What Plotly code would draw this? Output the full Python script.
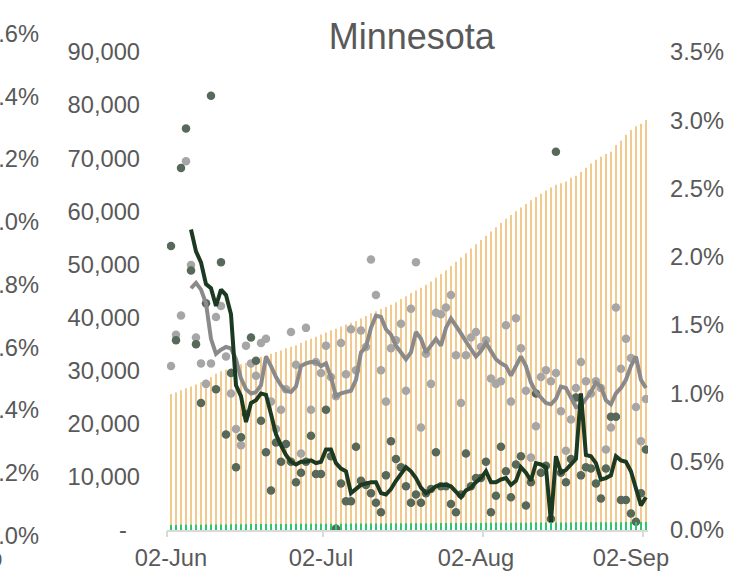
import plotly.graph_objects as go
import pandas as pd

# ---------------- data ----------------
dates = pd.date_range("2020-06-02", periods=96, freq="D")

cum_cases = [
    25600, 25900, 26300, 26700, 27000, 27400, 27800, 28300, 28800, 29400,
    29900, 30200, 30500, 30800, 31200, 31500, 31900, 32300, 32600, 32900,
    33200, 33500, 33800, 34200, 34500, 34800, 35200, 35700, 36000, 36400,
    36800, 37200, 37600, 37900, 38300, 38700, 39000, 39300, 39800, 40300,
    40800, 41200, 41600, 42000, 42400, 42900, 43500, 44000, 44600, 45100,
    45600, 46200, 46800, 47500, 48200, 48900, 49700, 50500, 51300, 52100,
    53000, 53800, 54600, 55400, 56200, 57000, 57800, 58600, 59300, 60000,
    60700, 61400, 62100, 62700, 63300, 63900, 64500, 65000, 65300,
    65600, 66300, 66700, 67400, 68200, 69000, 69700, 70300, 70800, 71200,
    72500, 73300, 74400, 75300, 76000, 76500, 77200,
]

cum_deaths = [
    950, 960, 975, 985, 990, 1000, 1012, 1020, 1030, 1040,
    1050, 1058, 1070, 1080, 1088, 1100, 1108, 1115, 1120, 1128,
    1130, 1136, 1140, 1146, 1150, 1155, 1162, 1165, 1170, 1176,
    1180, 1185, 1190, 1196, 1200, 1205, 1210, 1216, 1220, 1225,
    1230, 1236, 1240, 1245, 1250, 1256, 1260, 1265, 1270, 1276,
    1280, 1285, 1290, 1296, 1300, 1305, 1310, 1316, 1320, 1325,
    1330, 1336, 1340, 1345, 1350, 1356, 1360, 1365, 1370, 1376,
    1380, 1385, 1390, 1396, 1400, 1405, 1410, 1416, 1420, 1425,
    1430, 1436, 1440, 1445, 1450, 1456, 1460, 1465, 1470, 1476,
    1480, 1485, 1490, 1496, 1500, 1505,
]

case_growth = [
    1.20, 1.43, 1.57, 2.70, 1.94, 1.41, 1.22, 1.07, 1.22, 1.56,
    1.64, 1.27, 1.00, 0.74, 0.62, 1.35, 1.22, 1.13, 1.37, 1.40,
    0.94, 0.74, 0.88, 1.03, 1.45, 1.21, 0.56, 1.48, 0.88, 1.23,
    1.15, 1.35, 1.12, 0.98, 1.37, 1.14, 1.47, 1.17, 1.46, 1.34,
    1.98, 1.72, 1.17, 0.94, 1.33, 1.39, 1.51, 1.02, 1.62, 1.96,
    0.75, 1.29, 1.07, 1.59, 1.58, 1.63, 1.72, 1.28, 0.93, 1.28,
    1.41, 1.45, 1.34, 1.39, 1.11, 1.07, 1.09, 1.50, 0.94, 1.55,
    1.33, 1.02, 0.53, 0.76, 1.12, 1.17, 1.09, 1.15, 0.87, 0.58,
    0.81, 1.04, 1.23, 1.09, 1.00, 1.09, 1.04, 0.59, 0.75, 1.63,
    1.18, 1.40, 1.26, 0.90, 0.65, 0.96,
]

death_growth = [
    2.08, 1.39, 2.65, 2.94, 1.90, 1.36, 0.93, 1.66, 3.18, 1.03,
    1.96, 0.70, 1.15, 0.46, 0.68, 0.85, 1.41, 1.24, 0.80, 0.57,
    0.29, 0.64, 0.50, 0.63, 0.50, 0.35, 0.42, 0.50, 0.69, 0.41,
    0.41, 0.88, 0.54, 0.01, 0.34, 0.21, 0.21, 0.61, 0.36, 0.33,
    0.27, 0.20, 0.13, 0.40, 0.65, 0.52, 0.46, 0.32, 0.20, 0.26,
    0.20, 0.27, 0.30, 0.57, 0.32, 0.32, 0.19, 0.13, 0.26, 0.56,
    0.32, 0.38, 0.38, 0.50, 0.13, 0.25, 0.61, 0.43, 0.24, 0.48,
    0.54, 0.18, 0.35, 1.00, 0.42, 0.47, 0.08, 2.77, 0.42, 0.35,
    0.52, 0.97, 0.40, 0.46, 0.45, 0.34, 0.23, 0.45, 0.83, 0.83,
    0.22, 0.22, 0.12, 0.06, 0.27, 0.59,
]

case_growth_avg = [None, None, None, None,
    1.77, 1.81, 1.76, 1.66, 1.40, 1.29, 1.32, 1.34, 1.33, 1.25,
    1.11, 1.03, 1.00, 1.01, 1.06, 1.27, 1.20, 1.12, 1.06, 1.02,
    1.01, 1.05, 1.20, 1.22, 1.23, 1.23, 1.20, 1.22, 1.12, 0.98,
    1.00, 1.01, 1.02, 1.10, 1.30, 1.34, 1.48, 1.57, 1.56, 1.47,
    1.43, 1.35, 1.30, 1.25, 1.30, 1.45, 1.40, 1.30, 1.35, 1.40,
    1.35, 1.48, 1.55, 1.50, 1.44, 1.38, 1.33, 1.27, 1.31, 1.37,
    1.31, 1.25, 1.22, 1.20, 1.13, 1.20, 1.27, 1.20, 1.08, 1.01,
    0.97, 0.93, 0.92, 0.96, 1.05, 1.04, 0.97, 0.90, 0.91, 0.96,
    1.01, 1.08, 1.05, 0.95, 0.92, 1.00, 1.04, 1.10, 1.20, 1.27,
    1.10, 1.04,
]

death_growth_avg = [None, None, None, None,
    2.20, 2.04, 1.96, 1.80, 1.77, 1.64, 1.76, 1.72, 1.58, 1.06,
    0.98, 0.79, 0.93, 0.95, 1.00, 0.99, 0.85, 0.70, 0.62, 0.55,
    0.50, 0.48, 0.50, 0.50, 0.51, 0.49, 0.50, 0.59, 0.59, 0.49,
    0.45, 0.43, 0.27, 0.30, 0.33, 0.34, 0.35, 0.35, 0.27, 0.26,
    0.30, 0.36, 0.41, 0.46, 0.43, 0.38, 0.31, 0.27, 0.29, 0.32,
    0.33, 0.33, 0.32, 0.28, 0.24, 0.29, 0.31, 0.35, 0.38, 0.43,
    0.35, 0.35, 0.37, 0.38, 0.33, 0.36, 0.46, 0.42, 0.36, 0.49,
    0.48, 0.46, 0.06, 0.54, 0.42, 0.44, 0.48, 0.52, 1.00, 0.55,
    0.54, 0.49, 0.37, 0.38, 0.40, 0.54, 0.51, 0.50, 0.43, 0.30,
    0.18, 0.24,
]

left_ticks = [0, 10000, 20000, 30000, 40000, 50000, 60000, 70000, 80000, 90000]
left_ticktext = ["-\u00a0\u00a0", "10,000", "20,000", "30,000", "40,000", "50,000",
                 "60,000", "70,000", "80,000", "90,000"]
right_ticks = [0, 0.5, 1.0, 1.5, 2.0, 2.5, 3.0, 3.5]
right_ticktext = ["0.0%", "0.5%", "1.0%", "1.5%", "2.0%", "2.5%", "3.0%", "3.5%"]
x_tickvals = ["2020-06-02", "2020-07-02", "2020-08-02", "2020-09-02"]
x_ticktext = ["02-Jun", "02-Jul", "02-Aug", "02-Sep"]
x_tickmarks = ["2020-06-01 05:00", "2020-07-02 10:00", "2020-08-03 12:00", "2020-09-04 12:00"]
outer_ticks = [0.0, 0.2, 0.4, 0.6, 0.8, 1.0, 1.2, 1.4, 1.6]

# ---------------- style ----------------
TXT = "#595959"
FONT = "Liberation Sans, Arial, sans-serif"
FS = 23.7
DAY = 86400000
X_RANGE = ["2020-06-01 04:48", "2020-09-05 10:00"]

fig = go.Figure()
fig.add_trace(go.Bar(x=dates, y=cum_cases, width=0.25 * DAY,
                     marker=dict(color="#F3CA8E", line=dict(width=0)), yaxis="y"))
fig.add_trace(go.Bar(x=dates, y=cum_deaths, width=0.25 * DAY, xaxis="x2",
                     marker=dict(color="#2FC66F", line=dict(width=0)), yaxis="y"))
fig.add_trace(go.Scatter(x=dates, y=case_growth, mode="markers", yaxis="y2",
                         marker=dict(size=8.5, color="#A6A6A6")))
fig.add_trace(go.Scatter(x=dates, y=death_growth, mode="markers", yaxis="y2",
                         marker=dict(size=8.5, color="#56695B")))
fig.add_trace(go.Scatter(x=dates, y=case_growth_avg, mode="lines", yaxis="y2",
                         line=dict(color="#8A8A8A", width=4)))
fig.add_trace(go.Scatter(x=dates, y=death_growth_avg, mode="lines", yaxis="y2",
                         line=dict(color="#1C3A22", width=4)))

# cropped neighbouring axis at far left (partially outside the picture)
plot_left, plot_w = 167, 481
annotations = []
for v in outer_ticks:
    ypx = 535.7 - v / 1.6 * 501.7
    annotations.append(dict(
        text=f"{v:.1f}%", xref="paper", yref="paper",
        x=(40.7 - plot_left) / plot_w, y=(530 - ypx) / 478,
        xanchor="right", yanchor="middle", showarrow=False,
        font=dict(family=FONT, size=FS, color=TXT)))
annotations.append(dict(
    text="02-Sep", xref="paper", yref="paper",
    x=(4 - plot_left) / plot_w, y=(530 - 558) / 478,
    xanchor="right", yanchor="middle", showarrow=False,
    font=dict(family=FONT, size=FS, color=TXT)))

fig.update_layout(
    width=740, height=575,
    margin=dict(l=167, r=92, t=52, b=45),
    paper_bgcolor="white", plot_bgcolor="white",
    barmode="overlay", showlegend=False,
    font=dict(family=FONT, color=TXT, size=FS),
    title=dict(text="Minnesota", x=411.7 / 740, xanchor="center",
               y=1 - 36.5 / 575, yanchor="middle",
               font=dict(family=FONT, size=36, color=TXT)),
    xaxis=dict(type="date", automargin=False, range=X_RANGE,
               tickvals=x_tickvals, ticktext=x_ticktext,
               ticks="outside", ticklen=6, tickcolor="rgba(0,0,0,0)",
               showline=True, linecolor="#D9D9D9", linewidth=1.5,
               showgrid=False, zeroline=False,
               tickfont=dict(family=FONT, size=FS, color=TXT)),
    xaxis2=dict(type="date", automargin=False, range=X_RANGE,
                overlaying="x", side="bottom", anchor="y",
                tickvals=x_tickmarks, showticklabels=False,
                ticks="outside", ticklen=6, tickcolor="#D9D9D9", tickwidth=1.5,
                showline=False, showgrid=False, zeroline=False),
    yaxis=dict(range=[0, 90000], tickvals=left_ticks, ticktext=left_ticktext,
               automargin=False,
               showgrid=False, zeroline=False, showline=False,
               ticklabelstandoff=26,
               tickfont=dict(family=FONT, size=FS, color=TXT)),
    yaxis2=dict(range=[0, 3.5], tickvals=right_ticks, ticktext=right_ticktext,
                automargin=False,
                overlaying="y", side="right",
                showgrid=False, zeroline=False, showline=False,
                ticklabelstandoff=21,
                tickfont=dict(family=FONT, size=FS, color=TXT)),
    annotations=annotations,
)

fig.write_html(
    "out.html",
    config={"displayModeBar": False, "responsive": False},
    post_script="document.body.style.margin='0';document.body.style.overflow='hidden';",
)
